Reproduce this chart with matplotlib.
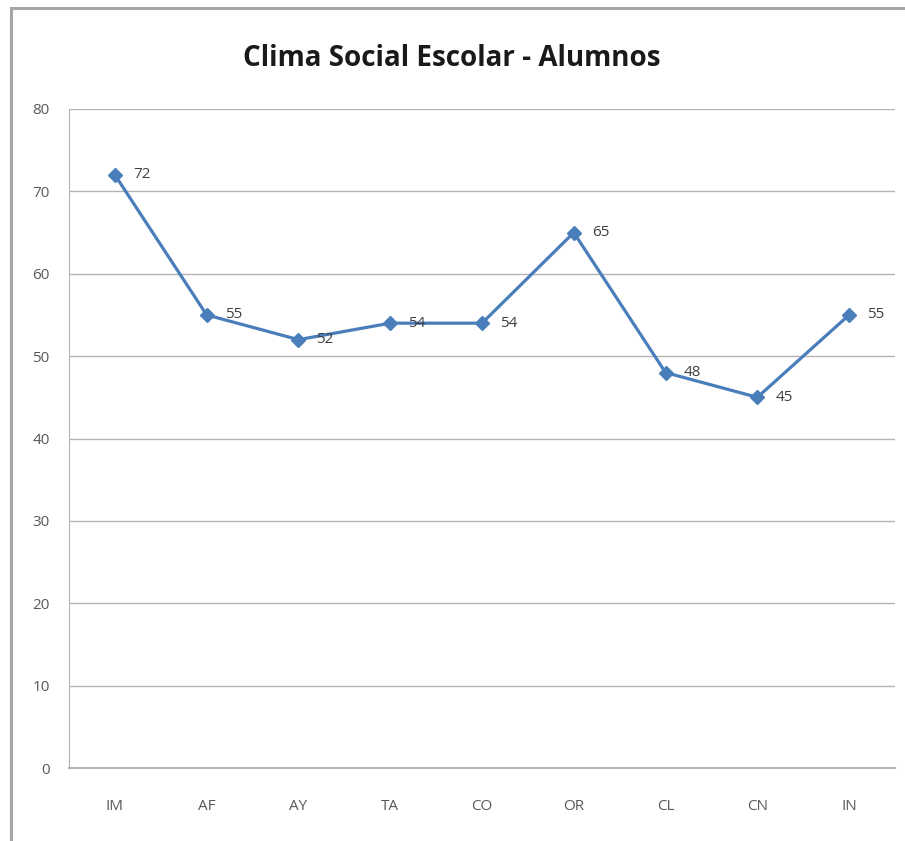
import matplotlib
matplotlib.use("Agg")
import matplotlib.pyplot as plt
from matplotlib.patches import Rectangle

categories = ["IM", "AF", "AY", "TA", "CO", "OR", "CL", "CN", "IN"]
values = [72, 55, 52, 54, 54, 65, 48, 45, 55]
yticks = [0, 10, 20, 30, 40, 50, 60, 70, 80]
title = "Clima Social Escolar - Alumnos"

W, H = 905, 841
fig = plt.figure(figsize=(W / 100, H / 100), dpi=100)
fig.patch.set_facecolor("white")

# outer chart border
fig.patches.append(Rectangle((11 / W, -0.01), 1.1, 1 - 8 / H + 0.01,
                             transform=fig.transFigure, fill=False,
                             edgecolor="#a6a6a6", linewidth=2.2))

left, right = 69 / W, 895 / W
bottom, top = 1 - 768 / H, 1 - 109 / H
ax = fig.add_axes([left, bottom, right - left, top - bottom])

x = list(range(len(categories)))
ax.plot(x, values, color="#4a7ebb", linewidth=2.3, marker="D",
        markersize=7, markerfacecolor="#4a7ebb", markeredgecolor="#4a7ebb",
        zorder=3)
for xi, v in zip(x, values):
    ax.annotate(str(v), (xi, v), xytext=(13, 0), textcoords="offset points",
                va="center", ha="left", fontsize=11, color="#404040",
                family="Open Sans")

ax.set_xlim(-0.5, len(categories) - 0.5)
ax.set_ylim(0, 80)
ax.set_yticks(yticks)
ax.set_xticks(x)
ax.set_xticklabels(categories)
ax.grid(axis="y", color="#b3b3b3", linewidth=1.0)
ax.set_axisbelow(True)
for s in ["top", "right"]:
    ax.spines[s].set_visible(False)
ax.spines["left"].set_color("#b3b3b3")
ax.spines["bottom"].set_color("#b3b3b3")
ax.spines["bottom"].set_linewidth(1.5)
ax.tick_params(axis="both", length=0, labelsize=11, labelcolor="#595959")
ax.tick_params(axis="x", pad=22)
ax.tick_params(axis="y", pad=14)
for lab in ax.get_xticklabels() + ax.get_yticklabels():
    lab.set_family("Open Sans")

fig.text(452 / W, 1 - 58 / H, title, ha="center", va="center",
         fontsize=20, fontweight="bold", family="Open Sans", color="#1a1a1a")

fig.savefig("out.png", dpi=100)
